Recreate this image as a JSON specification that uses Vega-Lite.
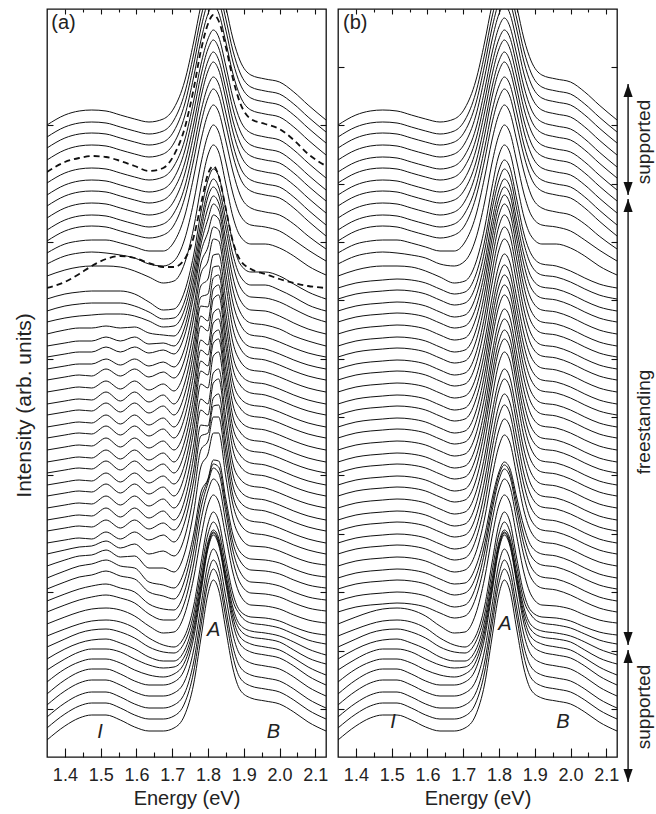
{
"$schema": "https://vega.github.io/schema/vega-lite/v6.json",
"background": "white",
"padding": {"left": 12, "top": 7, "right": 0, "bottom": 0},
"config": {
 "view": {"stroke": "#111", "strokeWidth": 1.3},
 "font": "Liberation Sans",
 "axis": {"domain": false, "grid": false, "tickColor": "#111", "tickWidth": 1.1, "labelFont": "Liberation Sans", "titleFont": "Liberation Sans", "labelColor": "#222", "titleColor": "#222", "titleFontWeight": "normal", "labelFontSize": 18, "titleFontSize": 20},
 "text": {"font": "Liberation Sans", "color": "#222"}
},
"spacing": 7,
"datasets": {
 "grid": [{"i":1,"e":1.35},{"i":2,"e":1.40},{"i":3,"e":1.44},{"i":4,"e":1.475},{"i":5,"e":1.515},{"i":6,"e":1.555},{"i":7,"e":1.595},{"i":8,"e":1.635},{"i":9,"e":1.675},{"i":10,"e":1.705},{"i":11,"e":1.735},{"i":12,"e":1.76},{"i":13,"e":1.78},{"i":14,"e":1.80},{"i":15,"e":1.815},{"i":16,"e":1.83},{"i":17,"e":1.85},{"i":18,"e":1.87},{"i":19,"e":1.89},{"i":20,"e":1.92},{"i":21,"e":1.96},{"i":22,"e":2.00},{"i":23,"e":2.04},{"i":24,"e":2.08},{"i":25,"e":2.13}],
 "curves": [
  {"p":"a","k":0,"d":0,"v":[17,31,39,42,42,37,30,26,26,29,42,73,118,163,177,167,127,88,67,59,56,53,45,35,26]},
  {"p":"a","k":1,"d":0,"v":[29,43,51,54,54,49,42,38,38,41,54,85,130,174,188,178,139,100,79,71,68,65,57,47,38]},
  {"p":"a","k":2,"d":0,"v":[40,54,62,65,65,60,53,49,49,52,64,95,139,183,197,187,148,110,90,82,79,76,68,58,49]},
  {"p":"a","k":3,"d":0,"v":[52,66,74,77,77,72,65,61,61,64,76,107,150,194,208,198,160,122,102,94,91,88,80,70,61]},
  {"p":"a","k":4,"d":0,"v":[63,77,85,88,88,83,76,72,72,75,88,119,163,208,222,212,173,133,113,105,102,99,91,81,72]},
  {"p":"a","k":5,"d":0,"v":[75,88,95,98,98,94,87,82,80,83,95,125,167,210,224,214,176,139,120,113,110,107,99,90,82]},
  {"p":"a","k":6,"d":0,"v":[87,98,105,108,108,105,98,92,89,90,101,130,171,212,225,216,179,144,127,120,118,115,107,99,93]},
  {"p":"a","k":7,"d":0,"v":[98,108,114,117,118,114,108,100,96,96,107,136,176,215,227,219,183,149,132,126,124,121,115,108,102]},
  {"p":"a","k":8,"d":0,"v":[110,118,124,127,128,125,119,110,105,104,115,143,184,223,235,226,190,156,142,134,132,129,123,117,113]},
  {"p":"a","k":9,"d":0,"v":[121,128,133,136,137,135,129,119,112,110,121,151,193,233,245,236,198,163,146,140,139,136,130,125,122]},
  {"p":"a","k":10,"d":0,"v":[133,140,145,148,149,147,141,131,124,125,143,179,219,252,262,255,220,184,162,152,151,148,142,137,134]},
  {"p":"a","k":11,"d":0,"v":[145,152,157,160,162,159,154,143,137,137,155,193,236,266,278,272,234,196,174,164,163,160,154,149,146]},
  {"p":"a","k":12,"d":0,"v":[156,163,168,171,173,169,165,153,148,147,166,205,248,274,289,284,245,206,185,175,174,171,165,160,157]},
  {"p":"a","k":13,"d":0,"v":[168,175,180,182,186,181,178,165,161,158,177,215,257,277,293,290,252,214,196,187,186,183,177,172,169]},
  {"p":"a","k":14,"d":0,"v":[179,186,191,193,197,191,189,175,172,169,187,223,264,278,297,296,258,222,205,198,197,194,188,183,180]},
  {"p":"a","k":15,"d":0,"v":[191,197,201,202,207,200,201,189,189,185,204,245,290,303,324,324,280,238,220,211,210,206,200,195,192]},
  {"p":"a","k":16,"d":0,"v":[203,207,210,211,216,209,213,203,206,201,220,262,307,316,340,340,294,252,233,224,222,218,212,207,203]},
  {"p":"a","k":17,"d":0,"v":[214,217,219,218,225,218,225,217,222,215,235,276,321,324,351,352,305,261,244,236,234,229,223,218,214]},
  {"p":"a","k":18,"d":0,"v":[226,229,231,230,237,229,237,228,234,227,246,287,332,331,359,363,315,271,255,248,246,241,235,230,226]},
  {"p":"a","k":19,"d":0,"v":[237,240,242,241,249,240,249,239,246,237,257,300,347,342,374,378,328,282,266,259,257,252,246,241,237]},
  {"p":"a","k":20,"d":0,"v":[249,252,254,253,261,252,261,251,258,249,269,312,358,353,384,388,339,293,278,271,269,264,258,253,249]},
  {"p":"a","k":21,"d":0,"v":[261,264,266,265,273,264,273,263,270,261,282,326,373,369,401,405,354,307,291,283,281,276,270,265,261]},
  {"p":"a","k":22,"d":0,"v":[272,275,277,276,284,275,284,274,281,273,293,337,386,382,414,418,366,318,302,294,292,287,281,276,272]},
  {"p":"a","k":23,"d":0,"v":[284,287,289,288,296,287,296,286,293,284,305,348,396,391,423,427,376,329,314,306,304,299,293,288,284]},
  {"p":"a","k":24,"d":0,"v":[295,298,300,299,307,298,307,297,304,295,316,359,407,402,434,438,387,340,325,317,315,310,304,299,295]},
  {"p":"a","k":25,"d":0,"v":[307,310,312,311,319,310,319,309,316,307,327,370,417,412,444,448,398,352,336,329,327,322,316,311,307]},
  {"p":"a","k":26,"d":0,"v":[319,322,324,323,331,322,331,321,328,319,340,383,431,426,458,462,411,364,349,341,339,334,328,323,319]},
  {"p":"a","k":27,"d":0,"v":[330,333,335,334,342,333,342,332,339,330,351,394,441,436,468,472,421,375,359,352,350,345,339,334,330]},
  {"p":"a","k":28,"d":0,"v":[342,345,347,346,354,345,354,344,351,342,363,405,451,450,479,482,433,388,372,364,362,357,351,346,342]},
  {"p":"a","k":29,"d":0,"v":[353,356,358,357,365,356,365,355,362,353,374,415,460,463,490,491,444,400,383,375,373,368,362,357,353]},
  {"p":"a","k":30,"d":0,"v":[365,368,370,369,376,368,376,367,373,366,386,426,471,478,502,503,457,414,396,387,385,380,374,369,365]},
  {"p":"a","k":31,"d":0,"v":[377,380,382,381,388,381,388,380,385,379,398,439,483,496,518,516,472,428,409,399,397,392,386,381,377]},
  {"p":"a","k":32,"d":0,"v":[388,391,393,393,398,392,398,391,395,390,409,449,493,510,530,527,483,441,420,410,408,403,397,392,388]},
  {"p":"a","k":33,"d":0,"v":[400,403,405,405,410,405,410,404,407,403,422,461,504,525,542,538,496,454,433,422,420,415,409,404,400]},
  {"p":"a","k":34,"d":0,"v":[411,414,416,416,420,416,420,413,414,411,430,469,512,538,553,547,507,467,445,434,432,428,421,416,411]},
  {"p":"a","k":35,"d":0,"v":[423,427,429,429,431,429,430,424,422,421,439,477,519,549,561,554,517,479,457,447,446,441,434,428,423]},
  {"p":"a","k":36,"d":0,"v":[435,439,441,442,443,443,441,436,430,431,448,485,526,560,570,562,528,492,470,460,459,455,448,441,435]},
  {"p":"a","k":37,"d":0,"v":[446,451,453,454,454,454,451,445,438,439,456,493,534,567,578,570,537,502,481,472,472,467,460,452,446]},
  {"p":"a","k":38,"d":0,"v":[458,463,465,466,466,466,463,455,447,448,466,502,544,577,588,581,548,514,493,485,485,481,473,465,458]},
  {"p":"a","k":39,"d":1,"v":[469,475,483,491,498,501,499,494,490,490,498,520,552,583,591,581,548,515,497,488,483,478,474,471,469]},
  {"p":"a","k":40,"d":0,"v":[481,487,490,491,491,490,486,480,474,476,494,529,569,602,612,605,573,540,521,513,513,509,501,491,482]},
  {"p":"a","k":41,"d":0,"v":[493,501,504,505,504,502,499,493,491,496,518,555,593,622,632,625,595,563,542,532,530,526,517,507,496]},
  {"p":"a","k":42,"d":0,"v":[504,513,516,517,517,514,510,506,506,515,541,580,616,643,652,645,616,585,562,549,545,542,533,521,508]},
  {"p":"a","k":43,"d":0,"v":[516,526,530,531,530,526,522,519,522,532,559,597,633,659,668,661,632,601,579,566,562,559,549,536,521]},
  {"p":"a","k":44,"d":0,"v":[527,537,541,542,541,537,533,530,533,544,570,609,645,671,680,673,644,612,590,577,573,570,560,547,532]},
  {"p":"a","k":45,"d":0,"v":[539,549,553,554,553,549,545,542,545,556,583,622,659,686,695,687,658,625,603,589,585,582,572,559,544]},
  {"p":"a","k":46,"d":0,"v":[551,561,565,566,565,561,557,554,557,568,594,633,669,696,705,697,668,636,614,601,597,594,584,571,556]},
  {"p":"a","k":47,"d":0,"v":[562,572,576,577,576,572,568,565,568,579,606,645,681,708,717,709,680,648,626,612,608,605,595,582,567]},
  {"p":"a","k":48,"d":0,"v":[574,584,588,589,588,584,580,577,580,591,617,656,692,718,727,720,691,659,637,624,620,617,607,594,579]},
  {"p":"a","k":49,"d":1,"v":[585,595,599,601,600,596,591,586,589,602,629,668,706,733,742,736,710,678,654,638,633,628,617,603,591]},
  {"p":"a","k":50,"d":0,"v":[597,607,611,612,611,607,603,600,603,614,641,680,716,743,752,744,715,683,661,647,643,640,630,617,602]},
  {"p":"a","k":51,"d":0,"v":[609,619,623,624,623,619,615,612,615,626,653,692,728,755,764,756,727,695,673,659,655,652,642,629,614]},
  {"p":"a","k":52,"d":0,"v":[620,630,634,635,634,630,626,623,626,637,664,703,739,766,775,767,738,706,684,670,666,663,653,640,625]},
  {"p":"a","k":53,"d":0,"v":[632,642,646,647,646,642,638,635,638,649,676,715,751,778,787,779,750,718,696,682,678,675,665,652,637]},
  {"p":"b","k":0,"d":0,"v":[17,31,39,42,42,37,30,26,26,29,42,73,118,163,177,167,127,88,67,59,56,53,45,35,26]},
  {"p":"b","k":1,"d":0,"v":[29,43,51,54,54,49,42,38,38,41,54,85,130,174,188,178,139,100,79,71,68,65,57,47,38]},
  {"p":"b","k":2,"d":0,"v":[40,54,62,65,65,60,53,49,49,52,64,95,139,183,197,187,148,110,90,82,79,76,68,58,49]},
  {"p":"b","k":3,"d":0,"v":[52,66,74,77,77,72,65,61,61,64,76,107,150,194,208,198,160,122,102,94,91,88,80,70,61]},
  {"p":"b","k":4,"d":0,"v":[63,77,85,88,88,83,76,72,72,75,88,119,163,208,222,212,173,133,113,105,102,99,91,81,72]},
  {"p":"b","k":5,"d":0,"v":[75,88,95,98,98,94,87,82,80,83,95,125,167,210,224,214,176,139,120,113,110,107,99,90,82]},
  {"p":"b","k":6,"d":0,"v":[87,98,105,108,108,105,98,92,89,90,101,130,171,212,225,216,179,144,127,120,118,115,107,99,93]},
  {"p":"b","k":7,"d":0,"v":[98,108,114,117,118,114,108,100,96,96,107,136,176,215,227,219,183,149,132,126,124,121,115,108,102]},
  {"p":"b","k":8,"d":0,"v":[110,118,124,127,128,125,119,110,105,104,115,143,184,223,235,226,190,156,142,134,132,129,123,117,113]},
  {"p":"b","k":9,"d":0,"v":[121,128,133,136,137,135,129,119,112,110,121,151,193,233,245,236,198,163,146,140,139,136,130,125,122]},
  {"p":"b","k":10,"d":0,"v":[133,140,145,148,149,147,141,131,124,125,143,179,219,252,262,255,220,184,162,152,151,148,142,137,134]},
  {"p":"b","k":11,"d":0,"v":[145,150,152,153,154,153,150,144,139,141,159,194,235,267,278,271,236,201,179,169,167,162,155,149,145]},
  {"p":"b","k":12,"d":0,"v":[156,161,163,164,165,164,161,155,150,152,170,205,245,277,288,281,246,212,190,180,178,173,166,160,156]},
  {"p":"b","k":13,"d":0,"v":[168,173,175,176,177,176,173,167,162,164,180,213,251,282,292,285,253,221,201,192,190,185,178,172,168]},
  {"p":"b","k":14,"d":0,"v":[179,184,186,187,188,187,184,178,173,174,190,221,257,285,295,289,259,230,211,203,201,196,189,183,179]},
  {"p":"b","k":15,"d":0,"v":[191,196,198,199,200,199,196,190,185,187,204,239,279,311,322,315,281,246,225,215,213,208,201,195,191]},
  {"p":"b","k":16,"d":0,"v":[203,208,210,211,212,211,208,202,197,199,217,253,294,327,338,331,295,260,237,227,225,220,213,207,203]},
  {"p":"b","k":17,"d":0,"v":[214,219,221,222,223,222,219,213,208,210,228,265,307,341,352,344,308,272,249,238,236,231,224,218,214]},
  {"p":"b","k":18,"d":0,"v":[226,231,233,234,235,234,231,225,220,222,240,277,318,352,363,355,320,283,261,250,248,243,236,230,226]},
  {"p":"b","k":19,"d":0,"v":[237,242,244,245,246,245,242,236,231,233,252,290,332,367,378,370,333,296,272,261,259,254,247,241,237]},
  {"p":"b","k":20,"d":0,"v":[249,254,256,257,258,257,254,248,243,245,264,301,343,377,388,380,344,307,284,273,271,266,259,253,249]},
  {"p":"b","k":21,"d":0,"v":[261,266,268,269,270,269,266,260,255,257,276,315,358,394,405,397,359,320,296,285,283,278,271,265,261]},
  {"p":"b","k":22,"d":0,"v":[272,277,279,280,281,280,277,271,266,268,288,327,371,407,418,410,371,332,308,296,294,289,282,276,272]},
  {"p":"b","k":23,"d":0,"v":[284,289,291,292,293,292,289,283,278,280,299,337,381,416,427,419,381,343,319,308,306,301,294,288,284]},
  {"p":"b","k":24,"d":0,"v":[295,300,302,303,304,303,300,294,289,291,310,348,392,427,438,430,392,354,330,319,317,312,305,299,295]},
  {"p":"b","k":25,"d":0,"v":[307,312,314,315,316,315,312,306,301,303,322,360,402,437,448,440,403,366,342,331,329,324,317,311,307]},
  {"p":"b","k":26,"d":0,"v":[319,324,326,327,328,327,324,318,313,315,334,372,416,451,462,454,416,378,354,343,341,336,329,323,319]},
  {"p":"b","k":27,"d":0,"v":[330,335,337,338,339,338,335,329,324,326,345,383,426,461,472,464,427,389,365,354,352,347,340,334,330]},
  {"p":"b","k":28,"d":0,"v":[342,347,349,350,351,350,347,341,336,338,357,394,437,471,482,474,437,400,377,366,364,359,352,346,342]},
  {"p":"b","k":29,"d":0,"v":[353,358,360,361,362,361,358,352,347,349,368,405,447,481,492,484,448,411,388,377,375,370,363,357,353]},
  {"p":"b","k":30,"d":0,"v":[365,370,372,373,374,373,370,364,359,361,379,416,458,492,503,495,459,423,400,389,387,382,375,369,365]},
  {"p":"b","k":31,"d":0,"v":[377,382,384,385,386,385,382,376,371,373,392,430,472,507,518,510,473,436,412,401,399,394,387,381,377]},
  {"p":"b","k":32,"d":0,"v":[388,393,395,396,397,396,393,387,382,384,403,441,484,519,530,522,485,447,423,412,410,405,398,392,388]},
  {"p":"b","k":33,"d":0,"v":[400,405,407,408,409,408,405,399,394,396,415,453,496,531,542,534,497,459,435,424,422,417,410,404,400]},
  {"p":"b","k":34,"d":0,"v":[411,416,418,419,420,419,416,410,405,407,426,464,507,542,553,545,508,470,446,435,433,428,421,415,411]},
  {"p":"b","k":35,"d":0,"v":[423,428,430,431,432,431,428,422,417,419,438,475,517,551,562,554,518,481,458,447,445,440,433,427,423]},
  {"p":"b","k":36,"d":0,"v":[435,440,442,443,444,443,440,434,429,431,449,485,526,559,570,563,527,492,469,459,457,452,445,439,435]},
  {"p":"b","k":37,"d":0,"v":[446,451,453,454,455,454,451,445,440,442,460,495,535,567,578,571,536,502,480,470,468,463,456,450,446]},
  {"p":"b","k":38,"d":0,"v":[458,463,465,466,467,466,463,457,452,454,471,506,546,577,588,581,547,513,492,482,480,475,468,462,458]},
  {"p":"b","k":39,"d":0,"v":[469,474,476,477,478,477,474,468,463,465,482,516,555,587,597,590,557,523,503,493,491,486,479,473,469]},
  {"p":"b","k":40,"d":0,"v":[481,487,490,491,491,490,486,480,474,476,494,529,569,602,612,605,573,540,521,513,513,509,501,491,482]},
  {"p":"b","k":41,"d":0,"v":[493,501,504,505,504,502,499,493,491,496,518,555,593,622,632,625,595,563,542,532,530,526,517,507,496]},
  {"p":"b","k":42,"d":0,"v":[504,513,516,517,517,514,510,506,506,515,541,580,616,643,652,645,616,585,562,549,545,542,533,521,508]},
  {"p":"b","k":43,"d":0,"v":[516,526,530,531,530,526,522,519,522,532,559,597,633,659,668,661,632,601,579,566,562,559,549,536,521]},
  {"p":"b","k":44,"d":0,"v":[527,537,541,542,541,537,533,530,533,544,570,609,645,671,680,673,644,612,590,577,573,570,560,547,532]},
  {"p":"b","k":45,"d":0,"v":[539,549,553,554,553,549,545,542,545,556,583,622,659,686,695,687,658,625,603,589,585,582,572,559,544]},
  {"p":"b","k":46,"d":0,"v":[551,561,565,566,565,561,557,554,557,568,594,633,669,696,705,697,668,636,614,601,597,594,584,571,556]},
  {"p":"b","k":47,"d":0,"v":[562,572,576,577,576,572,568,565,568,579,606,645,681,708,717,709,680,648,626,612,608,605,595,582,567]},
  {"p":"b","k":48,"d":0,"v":[574,584,588,589,588,584,580,577,580,591,617,656,692,718,727,720,691,659,637,624,620,617,607,594,579]},
  {"p":"b","k":49,"d":0,"v":[585,595,599,600,599,595,591,588,591,602,628,667,703,730,739,731,702,670,648,635,631,628,618,605,590]},
  {"p":"b","k":50,"d":0,"v":[597,607,611,612,611,607,603,600,603,614,641,680,716,743,752,744,715,683,661,647,643,640,630,617,602]},
  {"p":"b","k":51,"d":0,"v":[609,619,623,624,623,619,615,612,615,626,653,692,728,755,764,756,727,695,673,659,655,652,642,629,614]},
  {"p":"b","k":52,"d":0,"v":[620,630,634,635,634,630,626,623,626,637,664,703,739,766,775,767,738,706,684,670,666,663,653,640,625]},
  {"p":"b","k":53,"d":0,"v":[632,642,646,647,646,642,638,635,638,649,676,715,751,778,787,779,750,718,696,682,678,675,665,652,637]}
 ],
 "notes": [
  {"p":"a","e":1.816,"v":127,"t":"A"},{"p":"a","e":1.498,"v":25,"t":"I"},{"p":"a","e":1.983,"v":25,"t":"B"},
  {"p":"b","e":1.817,"v":133,"t":"A"},{"p":"b","e":1.504,"v":35,"t":"I"},{"p":"b","e":1.979,"v":35,"t":"B"}
 ],
 "tags": [{"p":"a","e":1.362,"v":734,"t":"(a)"},{"p":"b","e":1.364,"v":734,"t":"(b)"}],
 "spans": [{"e":2.161,"v":673,"v2":562},{"e":2.161,"v":558,"v2":112},{"e":2.161,"v":107,"v2":-25}],
 "heads": [{"e":2.161,"v":673,"dir":"up"},{"e":2.161,"v":558,"dir":"up"},{"e":2.161,"v":107,"dir":"up"},{"e":2.161,"v":562,"dir":"down"},{"e":2.161,"v":112,"dir":"down"},{"e":2.161,"v":-25,"dir":"down"}],
 "sides": [{"e":2.205,"v":615,"t":"supported"},{"e":2.205,"v":335,"t":"freestanding"},{"e":2.205,"v":50,"t":"supported"}]
},
"hconcat": [
 {
  "width": 279, "height": 748,
  "resolve": {"axis": {"x": "independent", "y": "independent"}},
  "layer": [
   {
    "data": {"name": "curves"},
    "transform": [
     {"filter": "datum.p === 'a' && datum.d === 0"},
     {"flatten": ["v"]},
     {"window": [{"op": "row_number", "as": "i"}], "groupby": ["k"]},
     {"lookup": "i", "from": {"data": {"name": "grid"}, "key": "i", "fields": ["e"]}}
    ],
    "mark": {"type": "line", "interpolate": "monotone", "clip": true, "color": "#111", "strokeWidth": 1},
    "encoding": {
     "x": {"field": "e", "type": "quantitative", "scale": {"domain": [1.35, 2.13], "nice": false, "zero": false},
      "axis": {"orient": "bottom", "values": [1.4,1.45,1.5,1.55,1.6,1.65,1.7,1.75,1.8,1.85,1.9,1.95,2.0,2.05,2.1],
       "labelExpr": "round(datum.value*20)%2===0 ? format(datum.value,'.1f') : ''",
       "tickSize": {"condition": {"test": "round(datum.value*20)%2===0", "value": -9}, "value": -5},
       "labelPadding": 18, "labelFlush": false, "labelOverlap": false, "labelBound": false,
       "title": "Energy (eV)", "titlePadding": 0}},
     "y": {"field": "v", "type": "quantitative", "scale": {"domain": [0, 748], "nice": false, "zero": false},
      "axis": {"orient": "left", "values": [48,165,282,398,515,632], "labels": false, "tickSize": -6,
       "title": "Intensity (arb. units)", "titleFontSize": 21, "titlePadding": 12, "titleY": 396}},
     "detail": {"field": "k", "type": "nominal"}
    }
   },
   {
    "data": {"name": "curves"},
    "transform": [
     {"filter": "datum.p === 'a' && datum.d === 1"},
     {"flatten": ["v"]},
     {"window": [{"op": "row_number", "as": "i"}], "groupby": ["k"]},
     {"lookup": "i", "from": {"data": {"name": "grid"}, "key": "i", "fields": ["e"]}}
    ],
    "mark": {"type": "line", "interpolate": "monotone", "clip": true, "color": "#111", "strokeWidth": 1.8, "strokeDash": [6, 4]},
    "encoding": {
     "x": {"field": "e", "type": "quantitative", "scale": {"domain": [1.35, 2.13], "nice": false, "zero": false},
      "axis": {"orient": "top", "values": [1.4,1.45,1.5,1.55,1.6,1.65,1.7,1.75,1.8,1.85,1.9,1.95,2.0,2.05,2.1], "labels": false, "title": null,
       "tickSize": {"condition": {"test": "round(datum.value*20)%2===0", "value": -5}, "value": -3}}},
     "y": {"field": "v", "type": "quantitative", "scale": {"domain": [0, 748], "nice": false, "zero": false},
      "axis": {"orient": "right", "values": [48,165,282,398,515,632], "labels": false, "tickSize": -6, "title": null}},
     "detail": {"field": "k", "type": "nominal"}
    }
   },
   {
    "data": {"name": "notes"},
    "transform": [{"filter": "datum.p === 'a'"}],
    "mark": {"type": "text", "fontStyle": "italic", "fontSize": 20, "align": "center", "baseline": "middle", "color": "#222"},
    "encoding": {
     "x": {"field": "e", "type": "quantitative", "scale": {"domain": [1.35, 2.13], "nice": false, "zero": false}, "axis": null},
     "y": {"field": "v", "type": "quantitative", "scale": {"domain": [0, 748], "nice": false, "zero": false}, "axis": null},
     "text": {"field": "t"}
    }
   },
   {
    "data": {"name": "tags"},
    "transform": [{"filter": "datum.p === 'a'"}],
    "mark": {"type": "text", "fontSize": 20, "align": "left", "baseline": "middle", "color": "#222"},
    "encoding": {
     "x": {"field": "e", "type": "quantitative", "scale": {"domain": [1.35, 2.13], "nice": false, "zero": false}, "axis": null},
     "y": {"field": "v", "type": "quantitative", "scale": {"domain": [0, 748], "nice": false, "zero": false}, "axis": null},
     "text": {"field": "t"}
    }
   }
  ]
 },
 {
  "width": 279, "height": 748,
  "resolve": {"axis": {"x": "independent", "y": "independent"}},
  "layer": [
   {
    "data": {"name": "curves"},
    "transform": [
     {"filter": "datum.p === 'b'"},
     {"flatten": ["v"]},
     {"window": [{"op": "row_number", "as": "i"}], "groupby": ["k"]},
     {"lookup": "i", "from": {"data": {"name": "grid"}, "key": "i", "fields": ["e"]}}
    ],
    "mark": {"type": "line", "interpolate": "monotone", "clip": true, "color": "#111", "strokeWidth": 1},
    "encoding": {
     "x": {"field": "e", "type": "quantitative", "scale": {"domain": [1.35, 2.13], "nice": false, "zero": false},
      "axis": {"orient": "bottom", "values": [1.4,1.45,1.5,1.55,1.6,1.65,1.7,1.75,1.8,1.85,1.9,1.95,2.0,2.05,2.1],
       "labelExpr": "round(datum.value*20)%2===0 ? format(datum.value,'.1f') : ''",
       "tickSize": {"condition": {"test": "round(datum.value*20)%2===0", "value": -9}, "value": -5},
       "labelPadding": 18, "labelFlush": false, "labelOverlap": false, "labelBound": false,
       "title": "Energy (eV)", "titlePadding": 0}},
     "y": {"field": "v", "type": "quantitative", "scale": {"domain": [0, 748], "nice": false, "zero": false},
      "axis": {"orient": "left", "values": [48,106.5,165,223.5,282,340.5,398,456.5,515,573.5,632,690.5], "labels": false, "tickSize": -6, "title": null}},
     "detail": {"field": "k", "type": "nominal"}
    }
   },
   {
    "data": {"name": "notes"},
    "transform": [{"filter": "datum.p === 'b'"}],
    "mark": {"type": "text", "fontStyle": "italic", "fontSize": 20, "align": "center", "baseline": "middle", "color": "#222"},
    "encoding": {
     "x": {"field": "e", "type": "quantitative", "scale": {"domain": [1.35, 2.13], "nice": false, "zero": false},
      "axis": {"orient": "top", "values": [1.4,1.45,1.5,1.55,1.6,1.65,1.7,1.75,1.8,1.85,1.9,1.95,2.0,2.05,2.1], "labels": false, "title": null,
       "tickSize": {"condition": {"test": "round(datum.value*20)%2===0", "value": -5}, "value": -3}}},
     "y": {"field": "v", "type": "quantitative", "scale": {"domain": [0, 748], "nice": false, "zero": false},
      "axis": {"orient": "right", "values": [48,106.5,165,223.5,282,340.5,398,456.5,515,573.5,632,690.5], "labels": false, "tickSize": -6, "title": null}},
     "text": {"field": "t"}
    }
   },
   {
    "data": {"name": "tags"},
    "transform": [{"filter": "datum.p === 'b'"}],
    "mark": {"type": "text", "fontSize": 20, "align": "left", "baseline": "middle", "color": "#222"},
    "encoding": {
     "x": {"field": "e", "type": "quantitative", "scale": {"domain": [1.35, 2.13], "nice": false, "zero": false}, "axis": null},
     "y": {"field": "v", "type": "quantitative", "scale": {"domain": [0, 748], "nice": false, "zero": false}, "axis": null},
     "text": {"field": "t"}
    }
   },
   {
    "data": {"name": "spans"},
    "mark": {"type": "rule", "color": "#111", "strokeWidth": 1.4, "clip": false},
    "encoding": {
     "x": {"field": "e", "type": "quantitative", "scale": {"domain": [1.35, 2.13], "nice": false, "zero": false}, "axis": null},
     "y": {"field": "v", "type": "quantitative", "scale": {"domain": [0, 748], "nice": false, "zero": false}, "axis": null},
     "y2": {"field": "v2"}
    }
   },
   {
    "data": {"name": "heads"},
    "mark": {"type": "point", "filled": true, "size": 676, "color": "#111", "opacity": 1, "strokeWidth": 0, "clip": false},
    "encoding": {
     "x": {"field": "e", "type": "quantitative", "scale": {"domain": [1.35, 2.13], "nice": false, "zero": false}, "axis": null},
     "y": {"field": "v", "type": "quantitative", "scale": {"domain": [0, 748], "nice": false, "zero": false}, "axis": null},
     "shape": {"field": "dir", "type": "nominal", "scale": {"domain": ["up", "down"], "range": ["M0,0L0.35,1L-0.35,1Z", "M0,0L0.35,-1L-0.35,-1Z"]}, "legend": null}
    }
   },
   {
    "data": {"name": "sides"},
    "mark": {"type": "text", "fontSize": 19, "angle": 270, "align": "center", "baseline": "middle", "color": "#222", "clip": false},
    "encoding": {
     "x": {"field": "e", "type": "quantitative", "scale": {"domain": [1.35, 2.13], "nice": false, "zero": false}, "axis": null},
     "y": {"field": "v", "type": "quantitative", "scale": {"domain": [0, 748], "nice": false, "zero": false}, "axis": null},
     "text": {"field": "t"}
    }
   }
  ]
 }
]
}
